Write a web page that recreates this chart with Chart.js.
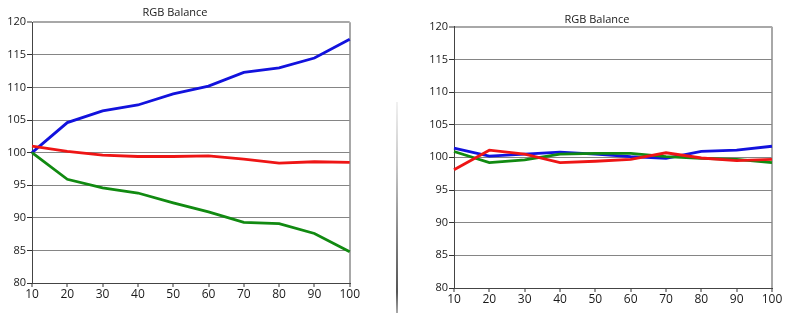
<!DOCTYPE html>
<html>
<head>
<meta charset="utf-8">
<script src="https://cdn.jsdelivr.net/npm/chart.js@4/dist/chart.umd.min.js"></script>
<style>
  body { margin: 0; background: #fff; width: 792px; height: 313px; position: relative; overflow: hidden; }
  .box { position: absolute; top: 0; height: 313px; }
  #links { left: 0; width: 360px; }
  #rechts { left: 412px; width: 380px; }
  .scheiding { position: absolute; left: 396px; top: 102px; width: 2px; height: 211px;
    background: linear-gradient(to bottom, rgba(220,220,220,0.4), #c8c8c8 30%, #777 70%, #555 90%, #aaa); }
</style>
</head>
<body>
<div class="scheiding"></div>
<div class="box" id="links"><canvas id="chartLinks"></canvas></div>
<div class="box" id="rechts"><canvas id="chartRechts"></canvas></div>

<script>
// de x labels (helderheid in procent)
const stappen = [10, 20, 30, 40, 50, 60, 70, 80, 90, 100];

// linker grafiek (voor kalibratie)
const roodVoor = [101.0, 100.2, 99.6, 99.4, 99.4, 99.5, 99.0, 98.4, 98.6, 98.5];
const groenVoor = [100.0, 95.9, 94.6, 93.8, 92.3, 90.9, 89.3, 89.1, 87.6, 84.8];
const blauwVoor = [100.0, 104.6, 106.4, 107.3, 109.0, 110.2, 112.3, 113.0, 114.5, 117.4];

// rechter grafiek (na kalibratie)
const roodNa = [98.1, 101.1, 100.5, 99.2, 99.4, 99.7, 100.7, 99.9, 99.5, 99.7];
const groenNa = [100.9, 99.2, 99.6, 100.5, 100.6, 100.6, 100.1, 99.85, 99.7, 99.2];
const blauwNa = [101.4, 100.2, 100.5, 100.8, 100.5, 100.1, 99.85, 100.9, 101.1, 101.7];

const titel = 'RGB Balance';
const yMin = 80;
const yMax = 120;

const lettertype = "'Open Sans', 'Liberation Sans', sans-serif";

// hier maakt die een grafiek aan
function maakChart(id, rood, groen, blauw, opmaak) {
  const chart = document.getElementById(id);
  new Chart(chart, {
    type: 'line',
    data: {
      labels: stappen,
      datasets: [
        { label: 'rood', data: rood, borderColor: '#ee1515', borderWidth: 2.8, pointRadius: 0, tension: 0 },
        { label: 'groen', data: groen, borderColor: '#118a11', borderWidth: 2.8, pointRadius: 0, tension: 0 },
        { label: 'blauw', data: blauw, borderColor: '#1212dd', borderWidth: 2.8, pointRadius: 0, tension: 0 }
      ]
    },
    options: {
      responsive: true,
      maintainAspectRatio: false,
      animation: false,
      layout: { padding: { left: opmaak.links, right: opmaak.rechts, top: 0, bottom: 0 } },
      plugins: {
        legend: { display: false },
        tooltip: { enabled: false },
        title: {
          display: true,
          text: titel,
          color: '#1a1a1a',
          font: { family: lettertype, size: 11, weight: 'normal' },
          padding: { top: opmaak.titelBoven, bottom: opmaak.titelOnder }
        }
      },
      scales: {
        x: {
          offset: false,
          grid: {
            drawOnChartArea: true,
            color: (ctx) => ctx.index === stappen.length - 1 ? '#a8a8a8' : 'rgba(0,0,0,0)',
            lineWidth: 2,
            tickLength: 4,
            tickColor: '#333',
            tickWidth: 1
          },
          border: { color: '#444', width: 1 },
          ticks: {
            color: '#1a1a1a',
            font: { family: lettertype, size: 12 },
            padding: 0,
            maxRotation: 0,
            autoSkip: false
          },
          afterFit: (scale) => { scale.height = opmaak.xHoogte; }
        },
        y: {
          min: yMin,
          max: yMax,
          grid: {
            color: (ctx) => ctx.tick && ctx.tick.value === yMax ? '#a8a8a8' : '#858585',
            lineWidth: (ctx) => ctx.tick && ctx.tick.value === yMax ? 2 : 1,
            tickLength: 5,
            tickColor: '#333',
            tickWidth: 1
          },
          border: { color: '#444', width: 1 },
          ticks: {
            stepSize: 5,
            color: '#1a1a1a',
            font: { family: lettertype, size: 11 },
            padding: 1
          },
          afterFit: (scale) => { scale.width = opmaak.yBreedte; }
        }
      }
    }
  });
}

maakChart('chartLinks', roodVoor, groenVoor, blauwVoor,
  { links: 0, rechts: 10, titelBoven: 6, titelOnder: 3, xHoogte: 30, yBreedte: 32 });
maakChart('chartRechts', roodNa, groenNa, blauwNa,
  { links: 10, rechts: 20, titelBoven: 13, titelOnder: 0.5, xHoogte: 25, yBreedte: 32 });
</script>
</body>
</html>
